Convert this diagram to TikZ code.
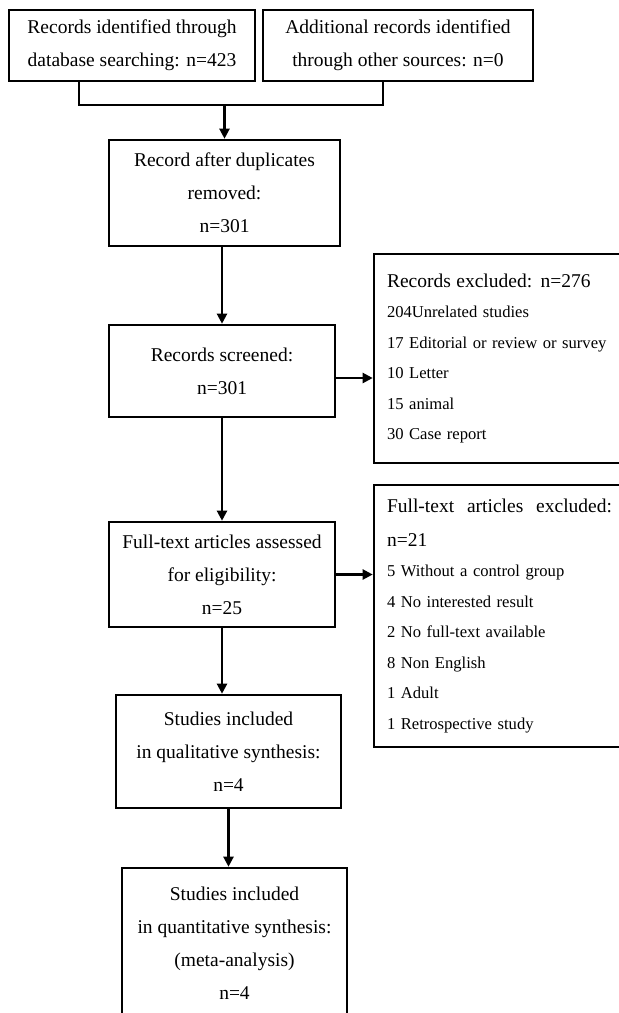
\documentclass[tikz,border=0pt]{standalone}
\usepackage{fontspec}
\setmainfont{Liberation Serif}
\usetikzlibrary{arrows.meta}
\newcommand\hdfont{\fontsize{19.5}{30.5}\selectfont}

\begin{document}
\begin{tikzpicture}[x=1pt,y=-1pt,
  box/.style={draw,line width=2.6pt,align=center,inner sep=0pt,font=\fontsize{19.5}{33}\selectfont},
  listbox/.style={draw,line width=2.6pt,align=left,inner xsep=13pt,inner ysep=0pt,text width=225pt,font=\fontsize{16.6}{30.5}\selectfont},
  arr/.style={line width=2.2pt,-{Triangle[length=10pt,width=10pt]}},
  link/.style={line width=2.2pt}]
\useasboundingbox (0,0) rectangle (619,1013);
\node [box,minimum width=246pt,minimum height=71pt] (ident) at (132,45.5) {Records identified through\\database searching: n=423};
\node [box,minimum width=270pt,minimum height=71pt] (other) at (398,45.5) {Additional records identified\\through other sources: n=0};
\node [box,minimum width=231pt,minimum height=106pt] (dedup) at (224.5,193) {Record after duplicates\\removed:\\n=301};
\node [box,minimum width=226pt,minimum height=92pt] (screen) at (222,371) {Records screened:\\n=301};
\node [listbox,minimum height=209pt] (excl) at (499.5,358.5) {{\hdfont Records excluded: n=276}\\
204Unrelated studies\\
17 Editorial or review or survey\\
10 Letter\\
15 animal\\
30 Case report};
\node [box,minimum width=226pt,minimum height=105pt] (fulltext) at (222,574.5) {Full-text articles assessed\\for eligibility:\\n=25};
\node [listbox,minimum height=262pt] (ftexcl) at (499.5,616) {\makebox[225pt][l]{\hdfont Full-text\hfill articles\hfill excluded:}\\[3pt]
{\hdfont n=21}\\
5 Without a control group\\
4 No interested result\\
2 No full-text available\\
8 Non English\\
1 Adult\\
1 Retrospective study};
\node [box,minimum width=225pt,minimum height=113pt] (qual) at (228.5,751.5) {Studies included\\in qualitative synthesis:\\n=4};
\node [box,minimum width=225pt,minimum height=150pt] (quant) at (234.5,943) {Studies included\\in quantitative synthesis:\\(meta-analysis)\\n=4};
\coordinate (joinL) at (79,105);
\coordinate (joinR) at (383,105);
\draw [link] (ident.south -| joinL) -- (joinL) -- (joinR) -- (other.south -| joinR);
\draw [arr] (dedup.north |- joinL) -- (dedup.north);
\draw [arr] (screen.north |- dedup.south) -- (screen.north);
\draw [arr] (screen.south) -- (fulltext.north);
\draw [arr] (fulltext.south) -- (fulltext.south |- qual.north);
\draw [arr] (qual.south) -- (qual.south |- quant.north);
\draw [arr] ([yshift=-7pt]screen.east) -- ([yshift=-7pt]screen.east -| excl.west);
\draw [arr] (fulltext.east) -- (fulltext.east -| ftexcl.west);
\end{tikzpicture}
\end{document}
